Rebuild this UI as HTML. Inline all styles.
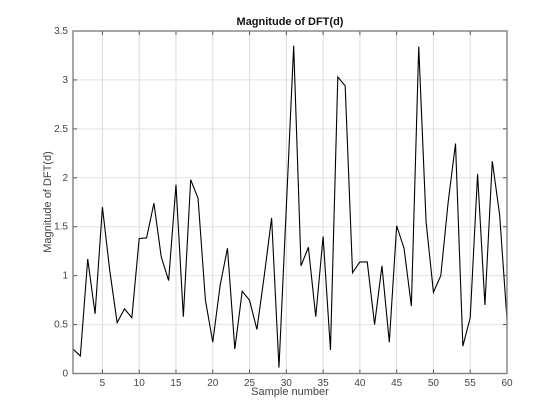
<!DOCTYPE html>
<html>
<head>
<meta charset="utf-8">
<style>
html,body{margin:0;padding:0;background:#fff;}
svg{display:block;font-family:"Liberation Sans",sans-serif;}
</style>
</head>
<body>
<svg id="chart" width="560" height="420" viewBox="0 0 560 420">
<text x="290" y="25" text-anchor="middle" font-size="11" font-weight="bold" fill="#111">Magnitude of DFT(d)</text>
<text x="290" y="395" text-anchor="middle" font-size="11" fill="#444">Sample number</text>
<text transform="translate(51 202) rotate(-90)" text-anchor="middle" font-size="11" fill="#444">Magnitude of DFT(d)</text>
<g id="grid"></g>
<polyline id="line" fill="none" stroke="#000" stroke-width="1.1" stroke-linejoin="miter"></polyline>
<g id="axes"></g>
</svg>
<script>
const magnitudes = [0.25,0.18,1.17,0.61,1.70,1.05,0.52,0.66,0.57,1.38,1.385,1.74,1.19,0.95,1.93,0.58,1.98,1.79,0.75,0.32,0.90,1.28,0.25,0.84,0.75,0.45,1.00,1.59,0.06,1.70,3.35,1.10,1.29,0.58,1.40,0.24,3.03,2.94,1.03,1.14,1.14,0.50,1.10,0.32,1.51,1.28,0.69,3.34,1.55,0.83,1.00,1.75,2.35,0.28,0.57,2.04,0.70,2.17,1.62,0.55];
const xTicks = [5,10,15,20,25,30,35,40,45,50,55,60];
const yTicks = [0,0.5,1,1.5,2,2.5,3,3.5];
const xMin = 1, xMax = 60, yMin = 0, yMax = 3.5;

const L = 73, R = 507, T = 31, B = 373.5;
const NS = 'http://www.w3.org/2000/svg';
const sx = v => L + (v - xMin) / (xMax - xMin) * (R - L);
const sy = v => B - (v - yMin) / (yMax - yMin) * (B - T);

function make(tag, attrs, parent) {
  const el = document.createElementNS(NS, tag);
  for (const k in attrs) el.setAttribute(k, attrs[k]);
  parent.appendChild(el);
  return el;
}
const grid = document.getElementById('grid');
const axes = document.getElementById('axes');

xTicks.forEach(t => {
  const x = sx(t);
  if (t !== xMax) {
    const g = make('line', {x1:x, x2:x, y1:T, y2:B, stroke:'#dcdcdc', 'stroke-width':1}, grid);
    
    
  }
  const a = make('line', {x1:x, x2:x, y1:B, y2:B-4, stroke:'#555', 'stroke-width':1}, axes);
  
  
  const b = make('line', {x1:x, x2:x, y1:T, y2:T+4, stroke:'#555', 'stroke-width':1}, axes);
  
  
  const lab = make('text', {x:x, y:386, 'text-anchor':'middle', 'font-size':10, fill:'#444'}, axes);
  
  
  lab.textContent = t;
});

yTicks.forEach(t => {
  const y = sy(t);
  if (t !== yMin && t !== yMax) {
    const g = make('line', {x1:L, x2:R, y1:y, y2:y, stroke:'#e2e2e2', 'stroke-width':1}, grid);
    
    
  }
  const a = make('line', {x1:L, x2:L+4, y1:y, y2:y, stroke:'#555', 'stroke-width':1}, axes);
  
  
  const b = make('line', {x1:R, x2:R-4, y1:y, y2:y, stroke:'#555', 'stroke-width':1}, axes);
  
  
  const lab = make('text', {x:68, y:y+3, 'text-anchor':'end', 'font-size':10, fill:'#444'}, axes);
  
  
  lab.textContent = t;
});

const frame = make('rect', {x:L, y:T, width:R-L, height:B-T, fill:'none', stroke:'#808080', 'stroke-width':1.4}, axes);



document.getElementById('line').setAttribute('points',
  magnitudes.map((v, i) => sx(i + 1).toFixed(2) + ',' + sy(v).toFixed(2)).join(' '));
</script>
</body>
</html>
